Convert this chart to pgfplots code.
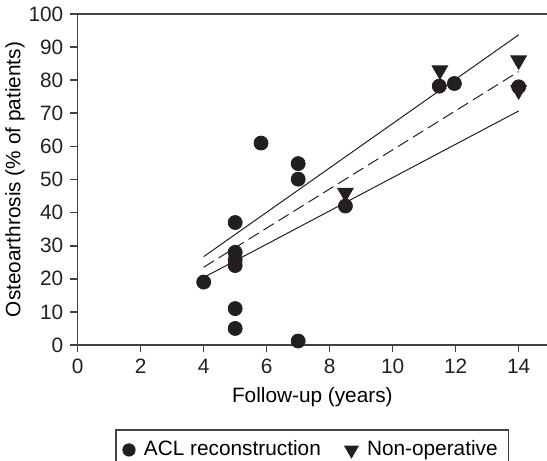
\documentclass[border=0pt]{standalone}
\usepackage{pgfplots}
\pgfplotsset{compat=1.18}
\usepackage{fontspec}
\setmainfont{Liberation Sans}
\definecolor{ink}{HTML}{231F20}
\begin{document}
\begin{tikzpicture}
\useasboundingbox (-38.85pt,-58pt) rectangle (234.65pt,172.5pt);
\begin{axis}[
  scale only axis, width=234.65pt, height=165.5pt,
  xmin=0, xmax=14.9, ymin=0, ymax=100,
  axis lines=left,
  axis line style={-, line width=0.8pt, color=ink!85},
  tick style={line width=0.8pt, color=ink!85},
  tick align=outside, major tick length=3.7pt,
  xtick={0,2,...,14}, ytick={0,10,...,100},
  font=\fontsize{10.4}{12}\selectfont,
  /pgf/number format/assume math mode=true,
  ticklabel style={color=ink},
  every axis x label/.style={at={(axis description cs:0.5,0)}, anchor=center, yshift=-26pt},
  every axis y label/.style={at={(axis description cs:0,0.5)}, xshift=-31.35pt, rotate=90, anchor=center},
  xlabel={Follow-up (years)},
  ylabel={Osteoarthrosis (\% of patients)},
  legend style={at={(0.5,-0.2547)}, anchor=north, draw=ink!85, line width=0.6pt,
    font=\fontsize{10.4}{12}\selectfont, inner xsep=3.5pt, inner ysep=3.5pt,
    /tikz/every odd column/.append style={column sep=2.5pt},
    /tikz/every even column/.append style={column sep=10pt}},
  legend columns=2,
  clip=false,
]
\addlegendimage{only marks, mark=*, mark size=3pt, color=ink}
\addlegendimage{only marks, mark=triangle*, mark options={rotate=180}, mark size=3.8pt, color=ink}
\legend{ACL reconstruction, Non-operative}

% regression line and bounds
\addplot[ink, line width=0.5pt] coordinates {(4,26.7) (14,93.7)};
\addplot[ink, line width=0.5pt, dash pattern=on 6pt off 2.8pt] coordinates {(4,23.5) (14,82.6)};
\addplot[ink, line width=0.5pt] coordinates {(4,20.4) (14,70.7)};

% non-operative
\addplot[only marks, mark=triangle*, mark options={rotate=180}, mark size=4.5pt, color=ink] coordinates {
(8.5,46) (11.5,83) (14,86) (14,77)};

% ACL reconstruction
\addplot[only marks, mark=*, mark size=3.5pt, color=ink] coordinates {
(4,19) (5,37) (5,28) (5,25.7) (5,24) (5,11) (5,5)
(5.82,61) (7,54.8) (7,50.1) (7,1.2) (8.5,42)
(11.48,78.2) (11.96,79) (14,78)};

\draw[line width=0.8pt, ink!85] (rel axis cs:0,1) -- (rel axis cs:1,1);
\end{axis}
\end{tikzpicture}
\end{document}
